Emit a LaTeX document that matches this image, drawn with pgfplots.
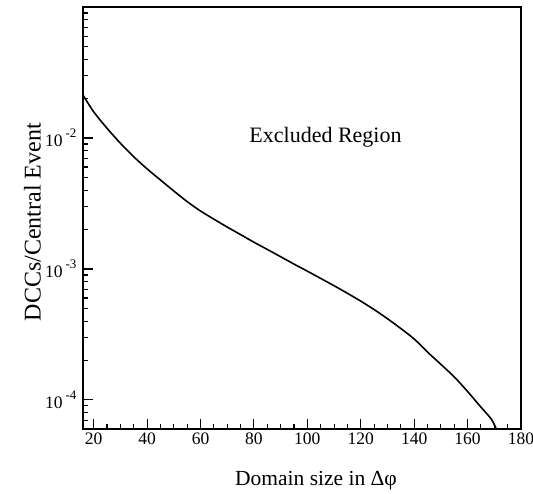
\documentclass[border=0pt]{standalone}
\usepackage{pgfplots}
\pgfplotsset{compat=1.18}
\usepackage{fontspec}
\setmainfont{Liberation Serif}
\begin{document}
\begin{tikzpicture}
\begin{axis}[
  scale only axis,
  width=438pt, height=422pt,
  ymode=log,
  xmin=16, xmax=180,
  ymin=6e-5, ymax=0.1,
  xtick={20,40,...,180},
  minor x tick num=3,
  ytick={1e-4,1e-3,1e-2},
  yticklabels={10\,\raisebox{1.1ex}{\fontsize{13}{14}\selectfont -4},
               10\,\raisebox{1.1ex}{\fontsize{13}{14}\selectfont -3},
               10\,\raisebox{1.1ex}{\fontsize{13}{14}\selectfont -2}},
  minor ytick={6e-5,7e-5,8e-5,9e-5,2e-4,3e-4,4e-4,5e-4,6e-4,7e-4,8e-4,9e-4,
               2e-3,3e-3,4e-3,5e-3,6e-3,7e-3,8e-3,9e-3,
               2e-2,3e-2,4e-2,5e-2,6e-2,7e-2,8e-2,9e-2},
  tick pos=left,
  tick align=inside,
  major tick length=10pt,
  minor tick length=5pt,
  axis line style={line width=1.3pt},
  every tick/.style={line width=1.1pt, black},
  /pgf/number format/assume math mode=true,
  ticklabel style={font=\fontsize{17.5}{20}\selectfont},
  yticklabel style={xshift=-3pt},
  xlabel={Domain size in Δφ},
  ylabel={DCCs/Central Event},
  xlabel style={font=\fontsize{21.5}{24}\selectfont, at={(axis description cs:0.532,-0.092)}, anchor=north},
  ylabel style={font=\fontsize{24}{26}\selectfont, at={(axis description cs:-0.088,0.49)}, anchor=south},
]
\addplot[black, line width=1.6pt, smooth] coordinates {
(16,0.02128) (20,0.01585) (25,0.01186) (30,0.00912) (35,0.00719)
(40,0.00581) (45,0.00478) (50,0.00394) (55,0.00327) (60,0.00277)
(65,0.00240) (70,0.00209) (75,0.00183) (80,0.00160) (85,0.00141)
(90,0.00124) (95,0.00109) (100,0.000962) (105,0.000847) (110,0.000745)
(115,0.000652) (120,0.000568) (125,0.000490) (130,0.000417) (135,0.000351)
(140,0.000292) (145,0.000232) (150,0.000187) (155,0.000150) (160,0.000116)
(165,8.81e-5) (168.9,7.13e-5) (170.75,6.0e-5)
};
\node[font=\fontsize{22}{24}\selectfont] at (axis cs:106.8,0.0101) {Excluded Region};
\end{axis}
\pgfresetboundingbox
\path[use as bounding box] ([xshift=-83pt,yshift=-65pt]current axis.south west) rectangle ([xshift=12pt,yshift=7pt]current axis.north east);
\end{tikzpicture}
\end{document}
